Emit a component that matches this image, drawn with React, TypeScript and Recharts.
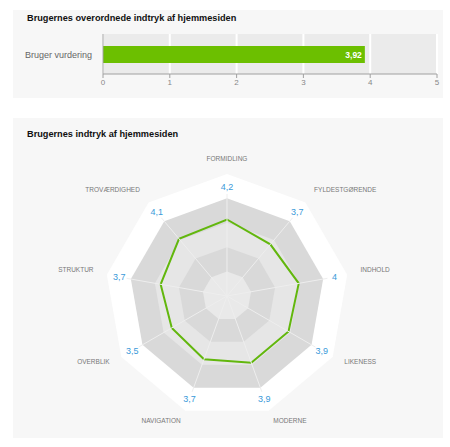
import {
  BarChart,
  Bar,
  XAxis,
  YAxis,
  CartesianGrid,
  LabelList,
  RadarChart,
  Radar,
  PolarAngleAxis,
  PolarRadiusAxis,
} from 'recharts';

const FONT = '"Liberation Sans", Arial, sans-serif';

// top panel: overall rating
const overallLabels = ['Bruger vurdering'];
const overallValues = [3.92];
const overallTicks = [0, 1, 2, 3, 4, 5];

// bottom panel: impression per area
const categories = [
  'FORMIDLING',
  'FYLDESTGØRENDE',
  'INDHOLD',
  'LIKENESS',
  'MODERNE',
  'NAVIGATION',
  'OVERBLIK',
  'STRUKTUR',
  'TROVÆRDIGHED',
];
const scores = [4.2, 3.7, 4, 3.9, 3.9, 3.7, 3.5, 3.7, 4.1];

// background bands, outer to inner (radius axis units)
const ringLevels = [6.7, 5.36, 4.02, 2.68, 1.34];
const ringColors = ['#ffffff', '#d9d9d9', '#e6e6e6', '#d9d9d9', '#e9e9e9'];
const valueLabelLevel = 6;
const radiusMax = 6.7;
const OUTER = 127.5;
const TICK_GAP = 8;

const fmt = (v: number) => String(v).replace('.', ',');

const overallData = overallLabels.map((name, i) => ({ name, value: overallValues[i] }));

const radarData = categories.map((name, i) => {
  const row: Record<string, string | number> = { name, score: scores[i], labelLevel: valueLabelLevel };
  ringLevels.forEach((lvl, j) => {
    row['ring' + j] = lvl;
  });
  return row;
});

function CategoryTick(props: any) {
  const { x, y, payload } = props;
  return (
    <text x={x} y={y} dy={4} textAnchor="end" fontSize={9} fontFamily={FONT} fill="#666">
      {payload.value}
    </text>
  );
}

// angle axis tick: spoke through the gray bands + category name
function AngleTick(props: any) {
  const { x, y, cx, cy, payload, textAnchor } = props;
  const k = (ringLevels[1] / radiusMax) * (OUTER / (OUTER + TICK_GAP));
  return (
    <g>
      <line x1={cx} y1={cy} x2={cx + (x - cx) * k} y2={cy + (y - cy) * k} stroke="#eeeeee" strokeWidth={1} />
      <text x={x} y={y} textAnchor={textAnchor} fontSize={6.5} fontFamily={FONT} fill="#777">
        {payload.value}
      </text>
    </g>
  );
}

function ValueLabel(props: any) {
  const { cx, cy, index } = props;
  return (
    <text
      key={'v' + index}
      x={cx}
      y={cy}
      textAnchor="middle"
      dominantBaseline="central"
      fontSize={9}
      fontFamily={FONT}
      fill="#3a9ad9"
    >
      {fmt(scores[index])}
    </text>
  );
}

const panel: React.CSSProperties = {
  position: 'absolute',
  left: 13,
  width: 430,
  background: '#f7f7f7',
};

const title: React.CSSProperties = {
  position: 'absolute',
  left: 14,
  fontFamily: FONT,
  fontWeight: 'bold',
  fontSize: 9.2,
  lineHeight: '10px',
  color: '#111',
  whiteSpace: 'nowrap',
};

export default function App() {
  return (
    <div style={{ position: 'absolute', left: 0, top: 0, width: 450, height: 447, background: '#fff' }}>
      <div style={{ ...panel, top: 10, height: 88 }}>
        <div style={{ ...title, top: 3 }}>Brugernes overordnede indtryk af hjemmesiden</div>
        <div style={{ position: 'absolute', left: 0, top: 0 }}>
          <BarChart
            width={430}
            height={88}
            data={overallData}
            layout="vertical"
            margin={{ top: 24, right: 6, left: 0, bottom: 0 }}
          >
            <CartesianGrid horizontal={false} fill="#ebebeb" stroke="#ffffff" strokeWidth={2} />
            <XAxis
              type="number"
              domain={[0, 5]}
              ticks={overallTicks}
              height={24}
              tickSize={4}
              tickMargin={1}
              axisLine={{ stroke: '#a0a0a0' }}
              tickLine={{ stroke: '#a0a0a0' }}
              tick={{ fontSize: 8, fill: '#888', fontFamily: FONT }}
            />
            <YAxis
              type="category"
              dataKey="name"
              width={90}
              tickSize={0}
              tickMargin={11}
              axisLine={{ stroke: '#a0a0a0' }}
              tickLine={false}
              tick={CategoryTick}
            />
            <Bar dataKey="value" fill="#6cbf00" barSize={17} isAnimationActive={false}>
              <LabelList
                dataKey="value"
                position="insideRight"
                offset={3}
                formatter={(v: any) => fmt(Number(v))}
                style={{ fill: '#fff', fontSize: 8.5, fontWeight: 'bold', fontFamily: FONT }}
              />
            </Bar>
          </BarChart>
        </div>
      </div>

      <div style={{ ...panel, top: 118, height: 320 }}>
        <div style={{ ...title, top: 11 }}>Brugernes indtryk af hjemmesiden</div>
        <div style={{ position: 'absolute', left: 0, top: 0 }}>
          <RadarChart
            width={430}
            height={320}
            data={radarData}
            cx={214}
            cy={178}
            outerRadius={OUTER}
            margin={{ top: 0, right: 0, bottom: 0, left: 0 }}
          >
            <PolarRadiusAxis domain={[0, radiusMax]} tick={false} axisLine={false} />
            {ringLevels.map((_, j) => (
              <Radar
                key={'ring' + j}
                dataKey={'ring' + j}
                fill={ringColors[j]}
                fillOpacity={1}
                stroke="none"
                isAnimationActive={false}
              />
            ))}
            <PolarAngleAxis dataKey="name" tickSize={TICK_GAP} tickLine={false} axisLine={false} tick={AngleTick} />
            <Radar
              dataKey="score"
              stroke="#62b70d"
              strokeWidth={2}
              fill="none"
              fillOpacity={0}
              isAnimationActive={false}
            />
            <Radar
              dataKey="labelLevel"
              stroke="none"
              fill="none"
              fillOpacity={0}
              dot={ValueLabel}
              isAnimationActive={false}
            />
          </RadarChart>
        </div>
      </div>
    </div>
  );
}
